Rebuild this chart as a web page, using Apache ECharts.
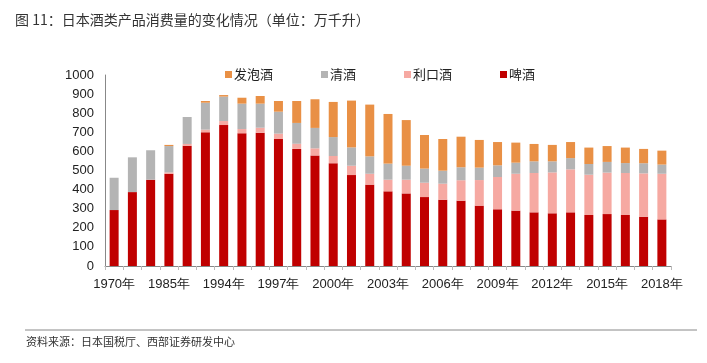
<!DOCTYPE html>
<html>
<head>
<meta charset="utf-8">
<script src="https://cdn.jsdelivr.net/npm/echarts@6/dist/echarts.min.js"></script>
<style>
html,body{margin:0;padding:0;background:#fff;}
#chart{width:707px;height:363px;}
</style>
</head>
<body>
<div id="chart"></div>
<script>
const categories = ['1970年','1975年','1980年','1985年','1990年','1993年','1994年','1995年','1996年','1997年','1998年','1999年','2000年','2001年','2002年','2003年','2004年','2005年','2006年','2007年','2008年','2009年','2010年','2011年','2012年','2013年','2014年','2015年','2016年','2017年','2018年'];
const beer =     [293,387,452,483,630,700,738,695,698,665,613,579,538,476,426,391,380,361,347,342,316,297,290,281,276,281,267,272,267,258,244];
const liqueur =  [0,0,0,7,9,14,21,22,26,28,27,37,38,49,57,61,72,75,84,107,134,169,193,206,214,225,211,217,220,227,239];
const sake =     [169,182,154,138,141,141,128,133,126,115,109,107,99,96,91,84,73,74,68,68,65,61,58,61,58,59,56,56,52,53,48];
const happoshu = [0,0,0,6,0,9,8,31,40,56,115,150,184,245,271,260,239,176,166,160,145,122,105,91,86,84,86,83,81,75,73];
const yTicks = [0,100,200,300,400,500,600,700,800,900,1000];

const chart = echarts.init(document.getElementById('chart'));
const numFont = 'Liberation Sans';
const cjkFont = 'Noto Sans CJK SC';
function mk(name, data, color){
  return {name, type:'bar', stack:'total', data, barWidth:9, itemStyle:{color}, emphasis:{disabled:true}};
}
chart.setOption({
  animation:false,
  title:{text:'图 11：日本酒类产品消费量的变化情况（单位：万千升）', left:10, top:8,
    textStyle:{fontFamily:cjkFont, fontSize:14, fontWeight:'normal', color:'#333'}},
  legend:{data:['发泡酒','清酒','利口酒','啤酒'], left:220, top:63, icon:'rect', itemWidth:7, itemHeight:7, itemGap:48,
    textStyle:{fontFamily:cjkFont, fontSize:13, color:'#222', padding:[0,0,0,-3]}},
  grid:{left:105, right:36, top:75, bottom:97},
  xAxis:{type:'category', data:categories,
    axisLine:{lineStyle:{color:'#888'}},
    axisTick:{show:true, interval:0, length:4, lineStyle:{color:'#bbb'}},
    axisLabel:{interval:2, fontFamily:numFont, fontSize:13, color:'#222', margin:12}},
  yAxis:{type:'value', min:yTicks[0], max:yTicks[yTicks.length-1], interval:100,
    axisLine:{show:true, lineStyle:{color:'#888'}},
    axisTick:{show:false},
    splitLine:{show:false},
    axisLabel:{fontFamily:numFont, fontSize:13, color:'#222', margin:11, formatter:v => String(v)}},
  graphic:[
    {type:'line', shape:{x1:25,y1:330,x2:697,y2:330}, style:{stroke:'#888', lineWidth:1}},
    {type:'text', left:26, top:336, style:{text:'资料来源：日本国税厅、西部证券研发中心', font:'11px "Noto Sans CJK SC"', fill:'#333'}}
  ],
  series:[
    mk('啤酒', beer, '#C00000'),
    mk('利口酒', liqueur, '#F6A9A2'),
    mk('清酒', sake, '#B4B4B4'),
    mk('发泡酒', happoshu, '#E99045')
  ]
});
</script>
</body>
</html>
